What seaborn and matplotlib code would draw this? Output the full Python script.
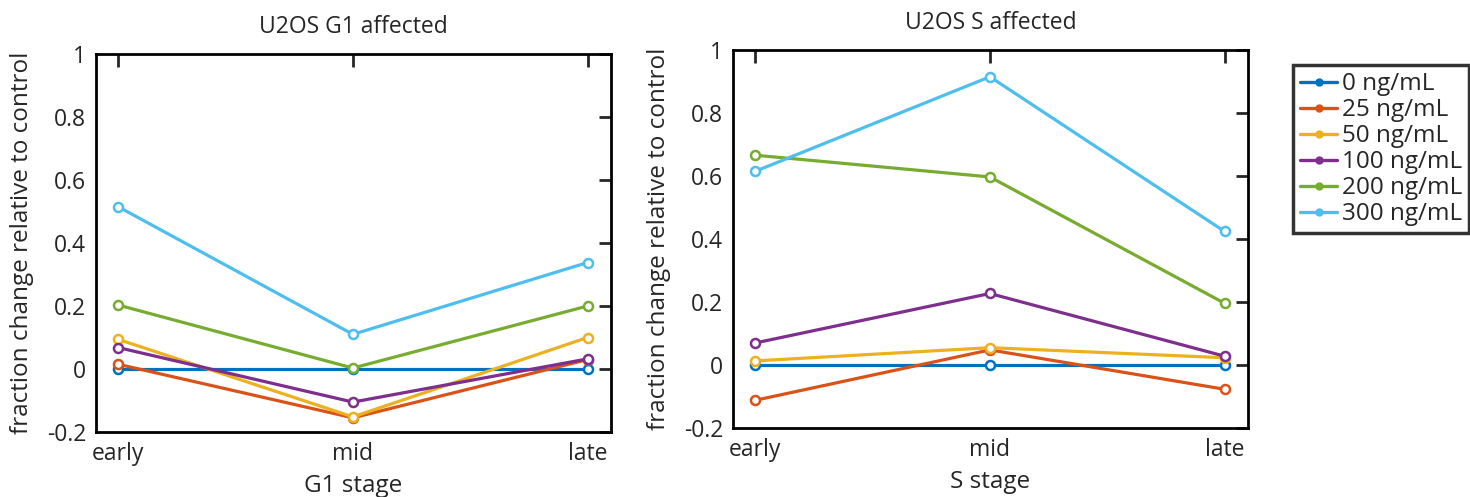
import numpy as np
import pandas as pd
import matplotlib
matplotlib.use("Agg")
import matplotlib.pyplot as plt
import seaborn as sns
from matplotlib.lines import Line2D

sns.set_style("white")
plt.rcParams['font.family'] = ['Open Sans', 'DejaVu Sans']

stages = ["early", "mid", "late"]
doses = ["0 ng/mL", "25 ng/mL", "50 ng/mL", "100 ng/mL", "200 ng/mL", "300 ng/mL"]
colors = ["#0072BD", "#D95319", "#EDB120", "#7E2F8E", "#77AC30", "#4DBEEE"]

g1_0 = [0.0, 0.0, 0.0]
g1_25 = [0.015, -0.155, 0.03]
g1_50 = [0.094, -0.152, 0.10]
g1_100 = [0.068, -0.105, 0.032]
g1_200 = [0.203, 0.003, 0.20]
g1_300 = [0.515, 0.11, 0.338]

s_0 = [0.0, 0.0, 0.0]
s_25 = [-0.112, 0.048, -0.077]
s_50 = [0.013, 0.055, 0.023]
s_100 = [0.07, 0.227, 0.028]
s_200 = [0.666, 0.597, 0.196]
s_300 = [0.615, 0.915, 0.424]

g1_series = [g1_0, g1_25, g1_50, g1_100, g1_200, g1_300]
s_series = [s_0, s_25, s_50, s_100, s_200, s_300]


def to_frame(series):
    rows = []
    for dose, vals in zip(doses, series):
        for i, (st, v) in enumerate(zip(stages, vals)):
            rows.append({"pos": i, "stage": st, "value": v, "dose": dose})
    return pd.DataFrame(rows)


fig = plt.figure(figsize=(14.7, 4.97), dpi=100)
ax1 = fig.add_axes([96 / 1470, 1 - 432 / 497, 515 / 1470, 378 / 497])
ax2 = fig.add_axes([733 / 1470, 1 - 428 / 497, 515 / 1470, 378 / 497])

palette = dict(zip(doses, colors))

for ax, series, title, xlabel in [
    (ax1, g1_series, "U2OS G1 affected", "G1 stage"),
    (ax2, s_series, "U2OS S affected", "S stage"),
]:
    df = to_frame(series)
    sns.lineplot(data=df, x="pos", y="value", hue="dose", hue_order=doses,
                 palette=palette, marker="o", markersize=6.5, linewidth=2.3,
                 legend=False, ax=ax)
    for ln in ax.lines:
        c = ln.get_color()
        ln.set_markerfacecolor("white")
        ln.set_markeredgecolor(c)
        ln.set_markeredgewidth(1.8)
    ax.set_xlim(-0.095, 2.1)
    ax.set_ylim(-0.2, 1.0)
    ax.set_xticks([0, 1, 2])
    ax.set_xticklabels(stages)
    yt = [-0.2, 0, 0.2, 0.4, 0.6, 0.8, 1]
    ax.set_yticks(yt)
    ax.set_yticklabels(["-0.2", "0", "0.2", "0.4", "0.6", "0.8", "1"])
    ax.tick_params(direction="in", length=9, width=2, labelsize=16.5,
                   top=True, right=True, pad=7)
    for sp in ax.spines.values():
        sp.set_linewidth(2)
        sp.set_color("black")
    ax.set_title(title, fontsize=16.5, pad=15)
    ax.set_xlabel(xlabel, fontsize=17.5, labelpad=6)
    ax.set_ylabel("fraction change relative to control", fontsize=17.5, labelpad=9)
    ax.grid(False)

handles = [Line2D([0], [0], color=c, lw=2.4, marker="o", markersize=5,
                  markerfacecolor=c) for c in colors]
leg = fig.legend(handles, doses, loc="upper left",
                 bbox_to_anchor=(1293 / 1470, 1 - 65 / 497),
                 fontsize=17.5, frameon=True, fancybox=False,
                 handlelength=1.5, handletextpad=0.2, labelspacing=0.08,
                 borderpad=0.3, borderaxespad=0)
leg.get_frame().set_edgecolor("black")
leg.get_frame().set_linewidth(2.5)

fig.savefig("out.png", dpi=100, facecolor="white")
